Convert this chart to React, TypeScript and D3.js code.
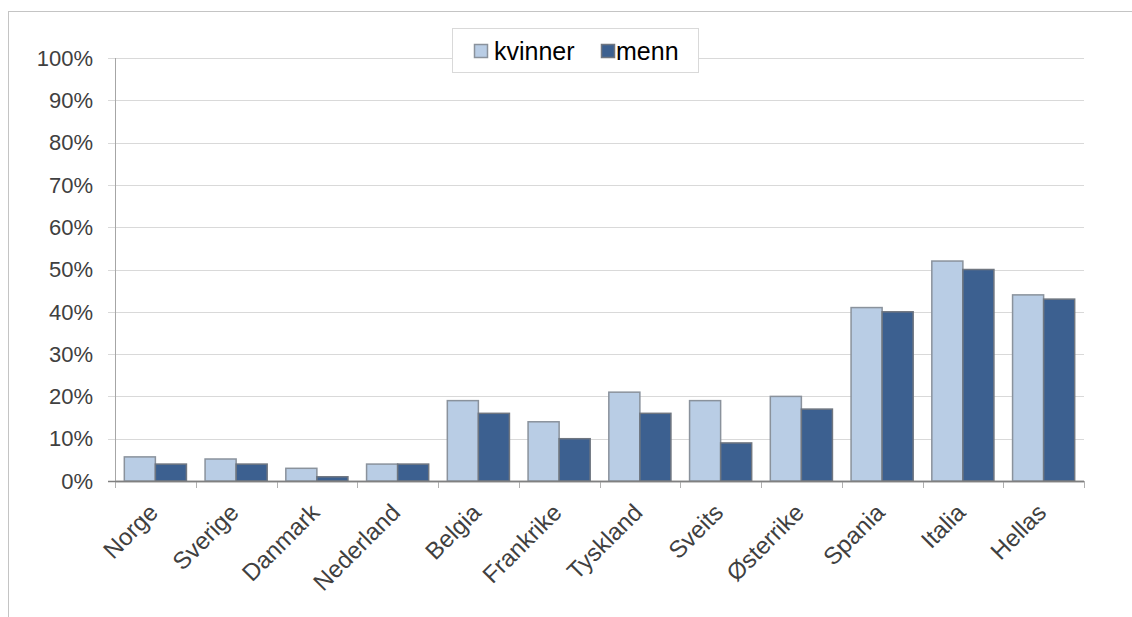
import React from "react";
import * as d3 from "d3";

const categories = ["Norge", "Sverige", "Danmark", "Nederland", "Belgia", "Frankrike", "Tyskland", "Sveits", "Østerrike", "Spania", "Italia", "Hellas"];
const kvinner = [5.7, 5.2, 3, 4, 19, 14, 21, 19, 20, 41, 52, 44];
const menn = [4, 4, 1, 4, 16, 10, 16, 9, 17, 40, 50, 43];
const seriesNames = ["kvinner", "menn"];
const yTicks = [0, 10, 20, 30, 40, 50, 60, 70, 80, 90, 100];

const colors: Record<string, string> = { kvinner: "#B9CDE5", menn: "#3C6090" };
const strokes: Record<string, string> = { kvinner: "#8a929c", menn: "#6f7680" };
const FONT = "'Liberation Sans', Arial, sans-serif";

export default function App() {
  const W = 1132, H = 617;
  const left = 115, right = 1084, top = 58, bottom = 481;
  const y = d3.scaleLinear().domain([0, 100]).range([bottom, top]);
  const x = d3.scaleBand<string>().domain(categories).range([left, right]).paddingInner(0).paddingOuter(0);
  const xs = d3.scaleBand<string>().domain(seriesNames).range([0, x.bandwidth()]).paddingInner(0).paddingOuter(0.3);
  const data = categories.map((c, i) => ({ c, kvinner: kvinner[i], menn: menn[i] }));
  const boundaries = categories.map((c) => x(c)!).concat([right]);

  return (
    <svg width={W} height={H} style={{ position: "absolute", left: 0, top: 0, background: "#fff" }} fontFamily={FONT}>
      <rect x={0} y={0} width={W} height={H} fill="#fff" />
      <rect x={8.5} y={11.5} width={W + 10} height={H + 10} fill="#fff" stroke="#c4c4c4" strokeWidth={1} />
      {yTicks.map((t) => (
        <g key={t}>
          <line x1={108} x2={right} y1={Math.round(y(t)) + 0.5} y2={Math.round(y(t)) + 0.5} stroke={t === 0 ? "#808080" : "#d9d9d9"} strokeWidth={t === 0 ? 1.5 : 1} />
          <text x={93} y={y(t)} dy="0.35em" textAnchor="end" fontSize={22} fill="#404040">{t}%</text>
        </g>
      ))}
      <line x1={left + 0.5} x2={left + 0.5} y1={top} y2={bottom} stroke="#a6a6a6" strokeWidth={1} />
      {boundaries.map((bx, i) => (
        <line key={i} x1={Math.round(bx) + 0.5} x2={Math.round(bx) + 0.5} y1={bottom} y2={bottom + 7} stroke="#b0b0b0" strokeWidth={1} />
      ))}
      {data.map((d) => (
        <g key={d.c}>
          {seriesNames.map((s) => {
            const v = (d as any)[s] as number;
            const bx = x(d.c)! + xs(s)!;
            return (
              <rect key={s} x={bx} y={y(v)} width={xs.bandwidth()} height={bottom - y(v)} fill={colors[s]} stroke={strokes[s]} strokeWidth={1.5} />
            );
          })}
        </g>
      ))}
      <line x1={left} x2={right} y1={bottom + 0.5} y2={bottom + 0.5} stroke="#808080" strokeWidth={1.5} />
      {categories.map((c) => {
        const cx = x(c)! + x.bandwidth() / 2 + 4;
        const cy = bottom + 33;
        return (
          <text key={c} x={cx} y={cy} textAnchor="end" fontSize={24} fill="#404040" transform={`rotate(-45, ${cx}, ${cy})`}>{c}</text>
        );
      })}
      <g>
        <rect x={452.5} y={28.5} width={246} height={44} fill="#fff" stroke="#d9d9d9" strokeWidth={1} />
        <rect x={474.5} y={44.5} width={13} height={13} fill={colors.kvinner} stroke={strokes.kvinner} strokeWidth={1.5} />
        <text x={494} y={60} fontSize={25} fill="#000">kvinner</text>
        <rect x={601.5} y={44.5} width={13} height={13} fill={colors.menn} stroke={strokes.menn} strokeWidth={1.5} />
        <text x={616} y={60} fontSize={25} fill="#000">menn</text>
      </g>
    </svg>
  );
}
